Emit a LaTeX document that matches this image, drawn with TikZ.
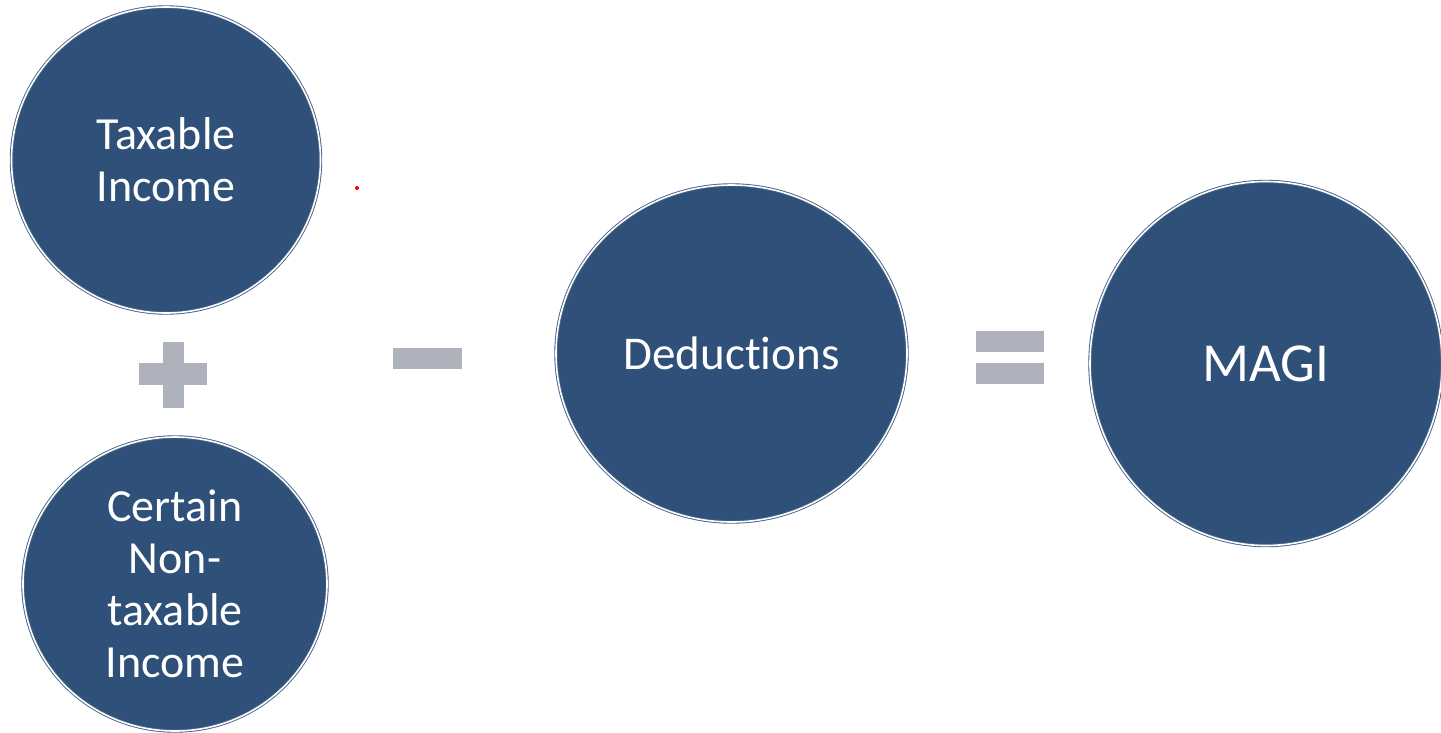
\documentclass[tikz,border=0pt]{standalone}
\usepackage{fontspec}
\setmainfont{Carlito}[Ligatures=NoCommon]
\usepackage{tikz}
\usetikzlibrary{shapes.geometric}
\usetikzlibrary{positioning}
\definecolor{termblue}{HTML}{2F5179}
\definecolor{signgray}{HTML}{ADB2BD}
\tikzstyle{term}=[ellipse, fill=termblue, draw=termblue!90!white, double=white,
    double distance=1.6pt, line width=0.9pt, inner sep=0pt, text=white,
    align=center, font=\fontsize{46}{52}\selectfont]
\tikzstyle{signbar}=[rectangle, fill=signgray, inner sep=0pt]

\begin{document}
\begin{tikzpicture}[x=1pt,y=-1pt]
          \useasboundingbox (0,0) rectangle (1441,732);
          \node[term, minimum width=309pt, minimum height=306pt] (taxable) at (166,160){Taxable\\Income};
          \node[term, minimum width=304pt, minimum height=294pt] (nontaxable) at (175,584){Certain\\Non-\\taxable\\Income};
          \node[term, minimum width=351pt, minimum height=337pt, font=\fontsize{47}{52}\selectfont] (deductions) at (731.5,353.5){Deductions};
          \node[term, minimum width=352pt, minimum height=364pt, font=\fontsize{55}{60}\selectfont] (magi) at (1266,363.5){MAGI};
          \node[signbar, minimum width=68pt, minimum height=22pt] (plusH) at (173,374){};
          \node[signbar, minimum width=21pt, minimum height=66pt] (plusV) at (173.5,375){};
          \node[signbar, minimum width=69pt, minimum height=21pt] (minus) at (427.5,358.5){};
          \node[signbar, minimum width=68pt, minimum height=21pt] (eqtop) at (1010,341.5){};
          \node[signbar, minimum width=68pt, minimum height=21pt] (eqbot) at (1010,373.5){};
          \node[circle, fill=red, inner sep=0pt, minimum size=4pt] (dot) at (357,188){};
        \end{tikzpicture}
\end{document}
